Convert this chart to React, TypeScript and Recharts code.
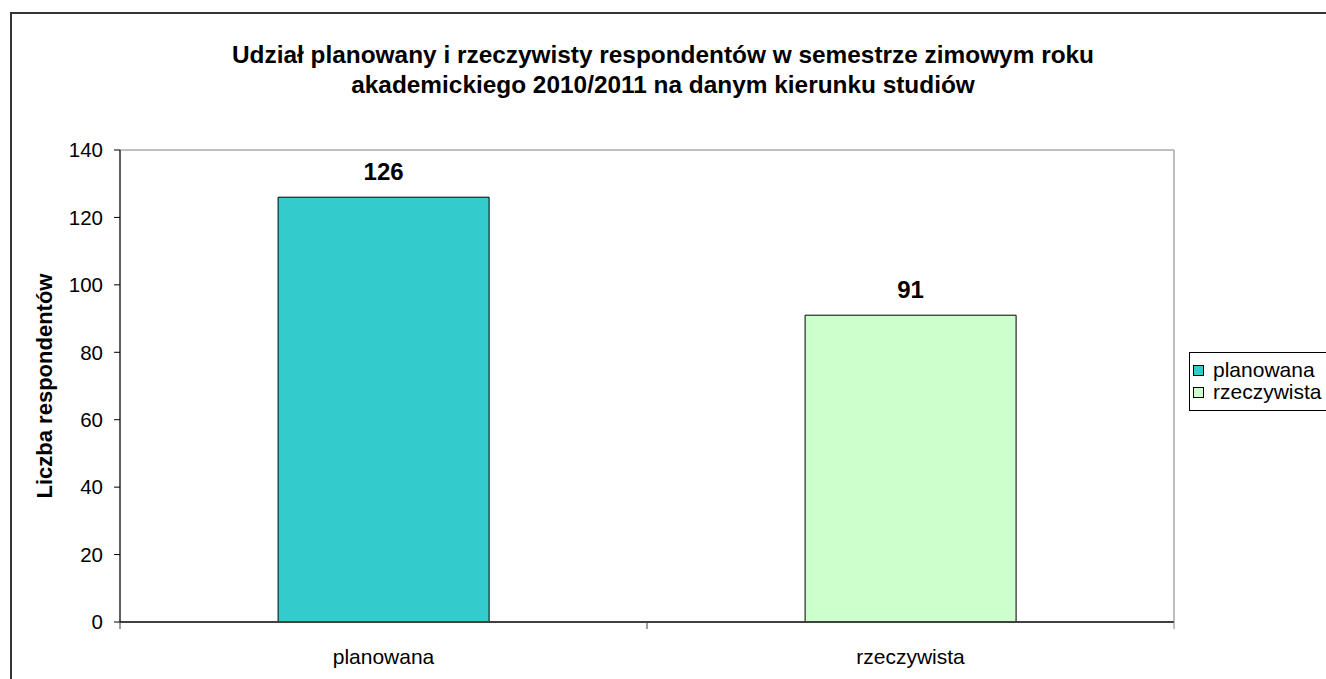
import { BarChart, Bar, XAxis, YAxis, Cell, LabelList, ReferenceArea } from 'recharts';

const categories = ['planowana', 'rzeczywista'];
const values = [126, 91];
const colors = ['#33CCCC', '#CCFFCC'];
const yTicks = [0, 20, 40, 60, 80, 100, 120, 140];
const titleLines = [
  'Udział planowany i rzeczywisty respondentów w semestrze zimowym roku',
  'akademickiego 2010/2011 na danym kierunku studiów',
];
const yLabel = 'Liczba respondentów';

const data = categories.map((name, i) => ({ name, value: values[i] }));

const font = '"Liberation Sans", Arial, sans-serif';
const xTickMargin = 27;

// category ticks sit on the band edges, like in Excel
function CategoryTick(props: any) {
  const { x, y, payload, index, visibleTicksCount } = props;
  const half = payload.offset ?? 0;
  const top = y - xTickMargin;
  return (
    <g>
      <line x1={x - half} x2={x - half} y1={top} y2={top + 7} stroke="#404040" />
      {index === visibleTicksCount - 1 && (
        <line x1={x + half} x2={x + half} y1={top} y2={top + 7} stroke="#808080" />
      )}
      <text x={x} y={y} dy="0.71em" textAnchor="middle" fontSize={21} fontFamily={font} fill="#000">
        {payload.value}
      </text>
    </g>
  );
}

export default function App() {
  return (
    <div
      style={{
        position: 'fixed',
        left: 0,
        top: 0,
        width: 1326,
        height: 679,
        overflow: 'hidden',
        background: '#fff',
        fontFamily: font,
      }}
    >
      <div
        style={{
          position: 'absolute',
          left: 10,
          top: 12,
          width: 2000,
          height: 2000,
          borderLeft: '2px solid #333',
          borderTop: '2px solid #333',
        }}
      />
      <div
        style={{
          position: 'absolute',
          left: 0,
          top: 40,
          width: 1326,
          textAlign: 'center',
          fontSize: 24.4,
          fontWeight: 'bold',
          lineHeight: '30px',
          color: '#000',
        }}
      >
        {titleLines.map((t) => (
          <div key={t}>{t}</div>
        ))}
      </div>
      <div style={{ position: 'absolute', left: 0, top: 0 }}>
        <BarChart
          width={1326}
          height={679}
          data={data}
          barCategoryGap="30%"
          margin={{ top: 150, right: 152, bottom: 17, left: 44 }}
        >
          <ReferenceArea y1={0} y2={140} stroke="#808080" fill="none" />
          <XAxis
            dataKey="name"
            height={40}
            axisLine={{ stroke: '#404040', strokeWidth: 2 }}
            tickLine={false}
            tickSize={0}
            tickMargin={xTickMargin}
            tick={<CategoryTick />}
          />
          <YAxis
            width={76}
            domain={[0, 140]}
            ticks={yTicks}
            interval={0}
            axisLine={{ stroke: '#000' }}
            tickLine={{ stroke: '#000' }}
            tickSize={6}
            tickMargin={11}
            tick={{ fontSize: 20.5, fontFamily: font, fill: '#000' }}
            label={{
              value: yLabel,
              angle: -90,
              position: 'insideLeft',
              offset: 0,
              textAnchor: 'middle',
              style: { fontSize: 22, fontWeight: 'bold', fontFamily: font, fill: '#000', textAnchor: 'middle' },
            }}
          />
          <Bar dataKey="value" stroke="#000" strokeWidth={1} isAnimationActive={false}>
            {data.map((d, i) => (
              <Cell key={d.name} fill={colors[i]} />
            ))}
            <LabelList
              dataKey="value"
              position="top"
              offset={17}
              style={{ fontSize: 24, fontWeight: 'bold', fontFamily: font, fill: '#000' }}
            />
          </Bar>
        </BarChart>
      </div>
      <div
        style={{
          position: 'absolute',
          left: 1189,
          top: 352,
          width: 200,
          height: 57,
          border: '1px solid #000',
          background: '#fff',
          fontSize: 21,
          color: '#000',
        }}
      >
        {categories.map((c, i) => (
          <div key={c} style={{ display: 'flex', alignItems: 'center', height: 22, marginTop: i === 0 ? 6 : 0 }}>
            <span
              style={{
                display: 'inline-block',
                width: 9,
                height: 9,
                border: '1px solid #000',
                background: colors[i],
                marginLeft: 3,
                marginRight: 9,
              }}
            />
            <span style={{ whiteSpace: 'nowrap' }}>{c}</span>
          </div>
        ))}
      </div>
    </div>
  );
}
